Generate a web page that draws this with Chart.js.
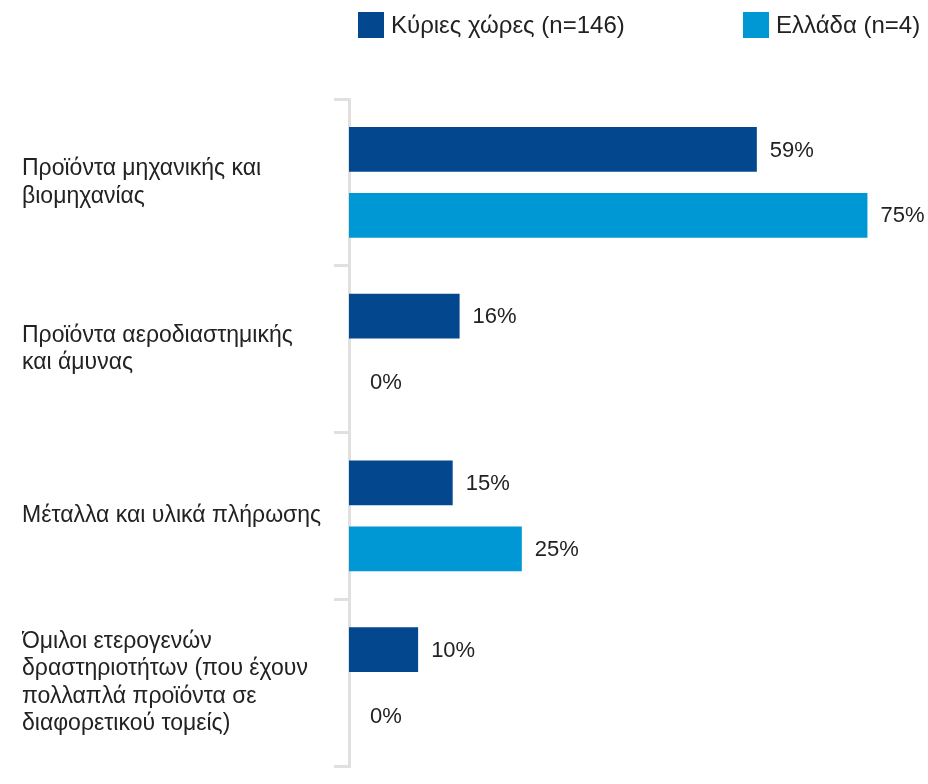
<!DOCTYPE html>
<html lang="el">
<head>
<meta charset="utf-8">
<script src="https://cdn.jsdelivr.net/npm/chart.js@4/dist/chart.umd.min.js"></script>
<style>
  html, body { margin: 0; padding: 0; background: #fff; }
  #wrap { position: relative; width: 928px; height: 784px; }
  #chart { position: absolute; left: 0; top: 0; }
  .legend-item {
    position: absolute; top: 12px; height: 26px;
    display: flex; align-items: center;
    font-family: "Liberation Sans", Arial, sans-serif; font-size: 24px; color: #222;
    white-space: nowrap;
  }
  .legend-item span.box { width: 26px; height: 26px; margin-right: 7px; display: inline-block; }
</style>
</head>
<body>
<div id="wrap">
  <canvas id="chart" width="928" height="784"></canvas>
  <div id="legend"></div>
</div>
<script>
const categories = [
  ["Προϊόντα μηχανικής και", "βιομηχανίας"],
  ["Προϊόντα αεροδιαστημικής", "και άμυνας"],
  ["Μέταλλα και υλικά πλήρωσης"],
  ["Όμιλοι ετερογενών", "δραστηριοτήτων (που έχουν", "πολλαπλά προϊόντα σε", "διαφορετικού τομείς)"]
];
const seriesNames = ["Κύριες χώρες (n=146)", "Ελλάδα (n=4)"];
const mainCountries = [59, 16, 15, 10];
const greece = [75, 0, 25, 0];
const colors = ["#03478e", "#0098d4"];

const FONT = "Liberation Sans, Arial, sans-serif";

// legend drawn as html above the plot
const legendEl = document.getElementById("legend");
const legendLeft = [358, 743];
seriesNames.forEach((name, i) => {
  const item = document.createElement("div");
  item.className = "legend-item";
  item.style.left = legendLeft[i] + "px";
  item.innerHTML = `<span class="box" style="background:${colors[i]}"></span>`;
  item.appendChild(document.createTextNode(name));
  legendEl.appendChild(item);
});

// value labels at the end of each bar
const valueLabels = {
  id: "valueLabels",
  afterDatasetsDraw(chart) {
    const ctx = chart.ctx;
    ctx.save();
    ctx.font = `22px ${FONT}`;
    ctx.fillStyle = "#222";
    ctx.textBaseline = "middle";
    ctx.textAlign = "left";
    chart.data.datasets.forEach((ds, di) => {
      chart.getDatasetMeta(di).data.forEach((bar, i) => {
        const v = ds.data[i];
        const gap = v === 0 ? 21 : 13;
        ctx.fillText(v + "%", bar.x + gap, bar.y + 1);
      });
    });
    ctx.restore();
  }
};

new Chart(document.getElementById("chart"), {
  type: "bar",
  data: {
    labels: categories,
    datasets: [
      { label: seriesNames[0], data: mainCountries, backgroundColor: colors[0] },
      { label: seriesNames[1], data: greece, backgroundColor: colors[1] }
    ]
  },
  options: {
    indexAxis: "y",
    responsive: false,
    animation: false,
    events: [],
    layout: { padding: { left: 22, top: 99, bottom: 18, right: 26 } },
    datasets: { bar: { categoryPercentage: 0.79, barPercentage: 0.68 } },
    plugins: { legend: { display: false }, tooltip: { enabled: false } },
    scales: {
      x: { min: 0, max: 80, display: false },
      y: {
        afterFit(scale) {
          scale.width = 327;
          scale.paddingTop = 0;
          scale.paddingBottom = 0;
        },
        border: { color: "#e2e0de", width: 3 },
        grid: { drawOnChartArea: false, drawTicks: true, tickLength: 15, color: "#e2e0de", lineWidth: 3 },
        ticks: {
          crossAlign: "far",
          color: "#222",
          padding: 8,
          font: { family: FONT, size: 23, lineHeight: 1.2 }
        }
      }
    }
  },
  plugins: [valueLabels]
});
</script>
</body>
</html>
